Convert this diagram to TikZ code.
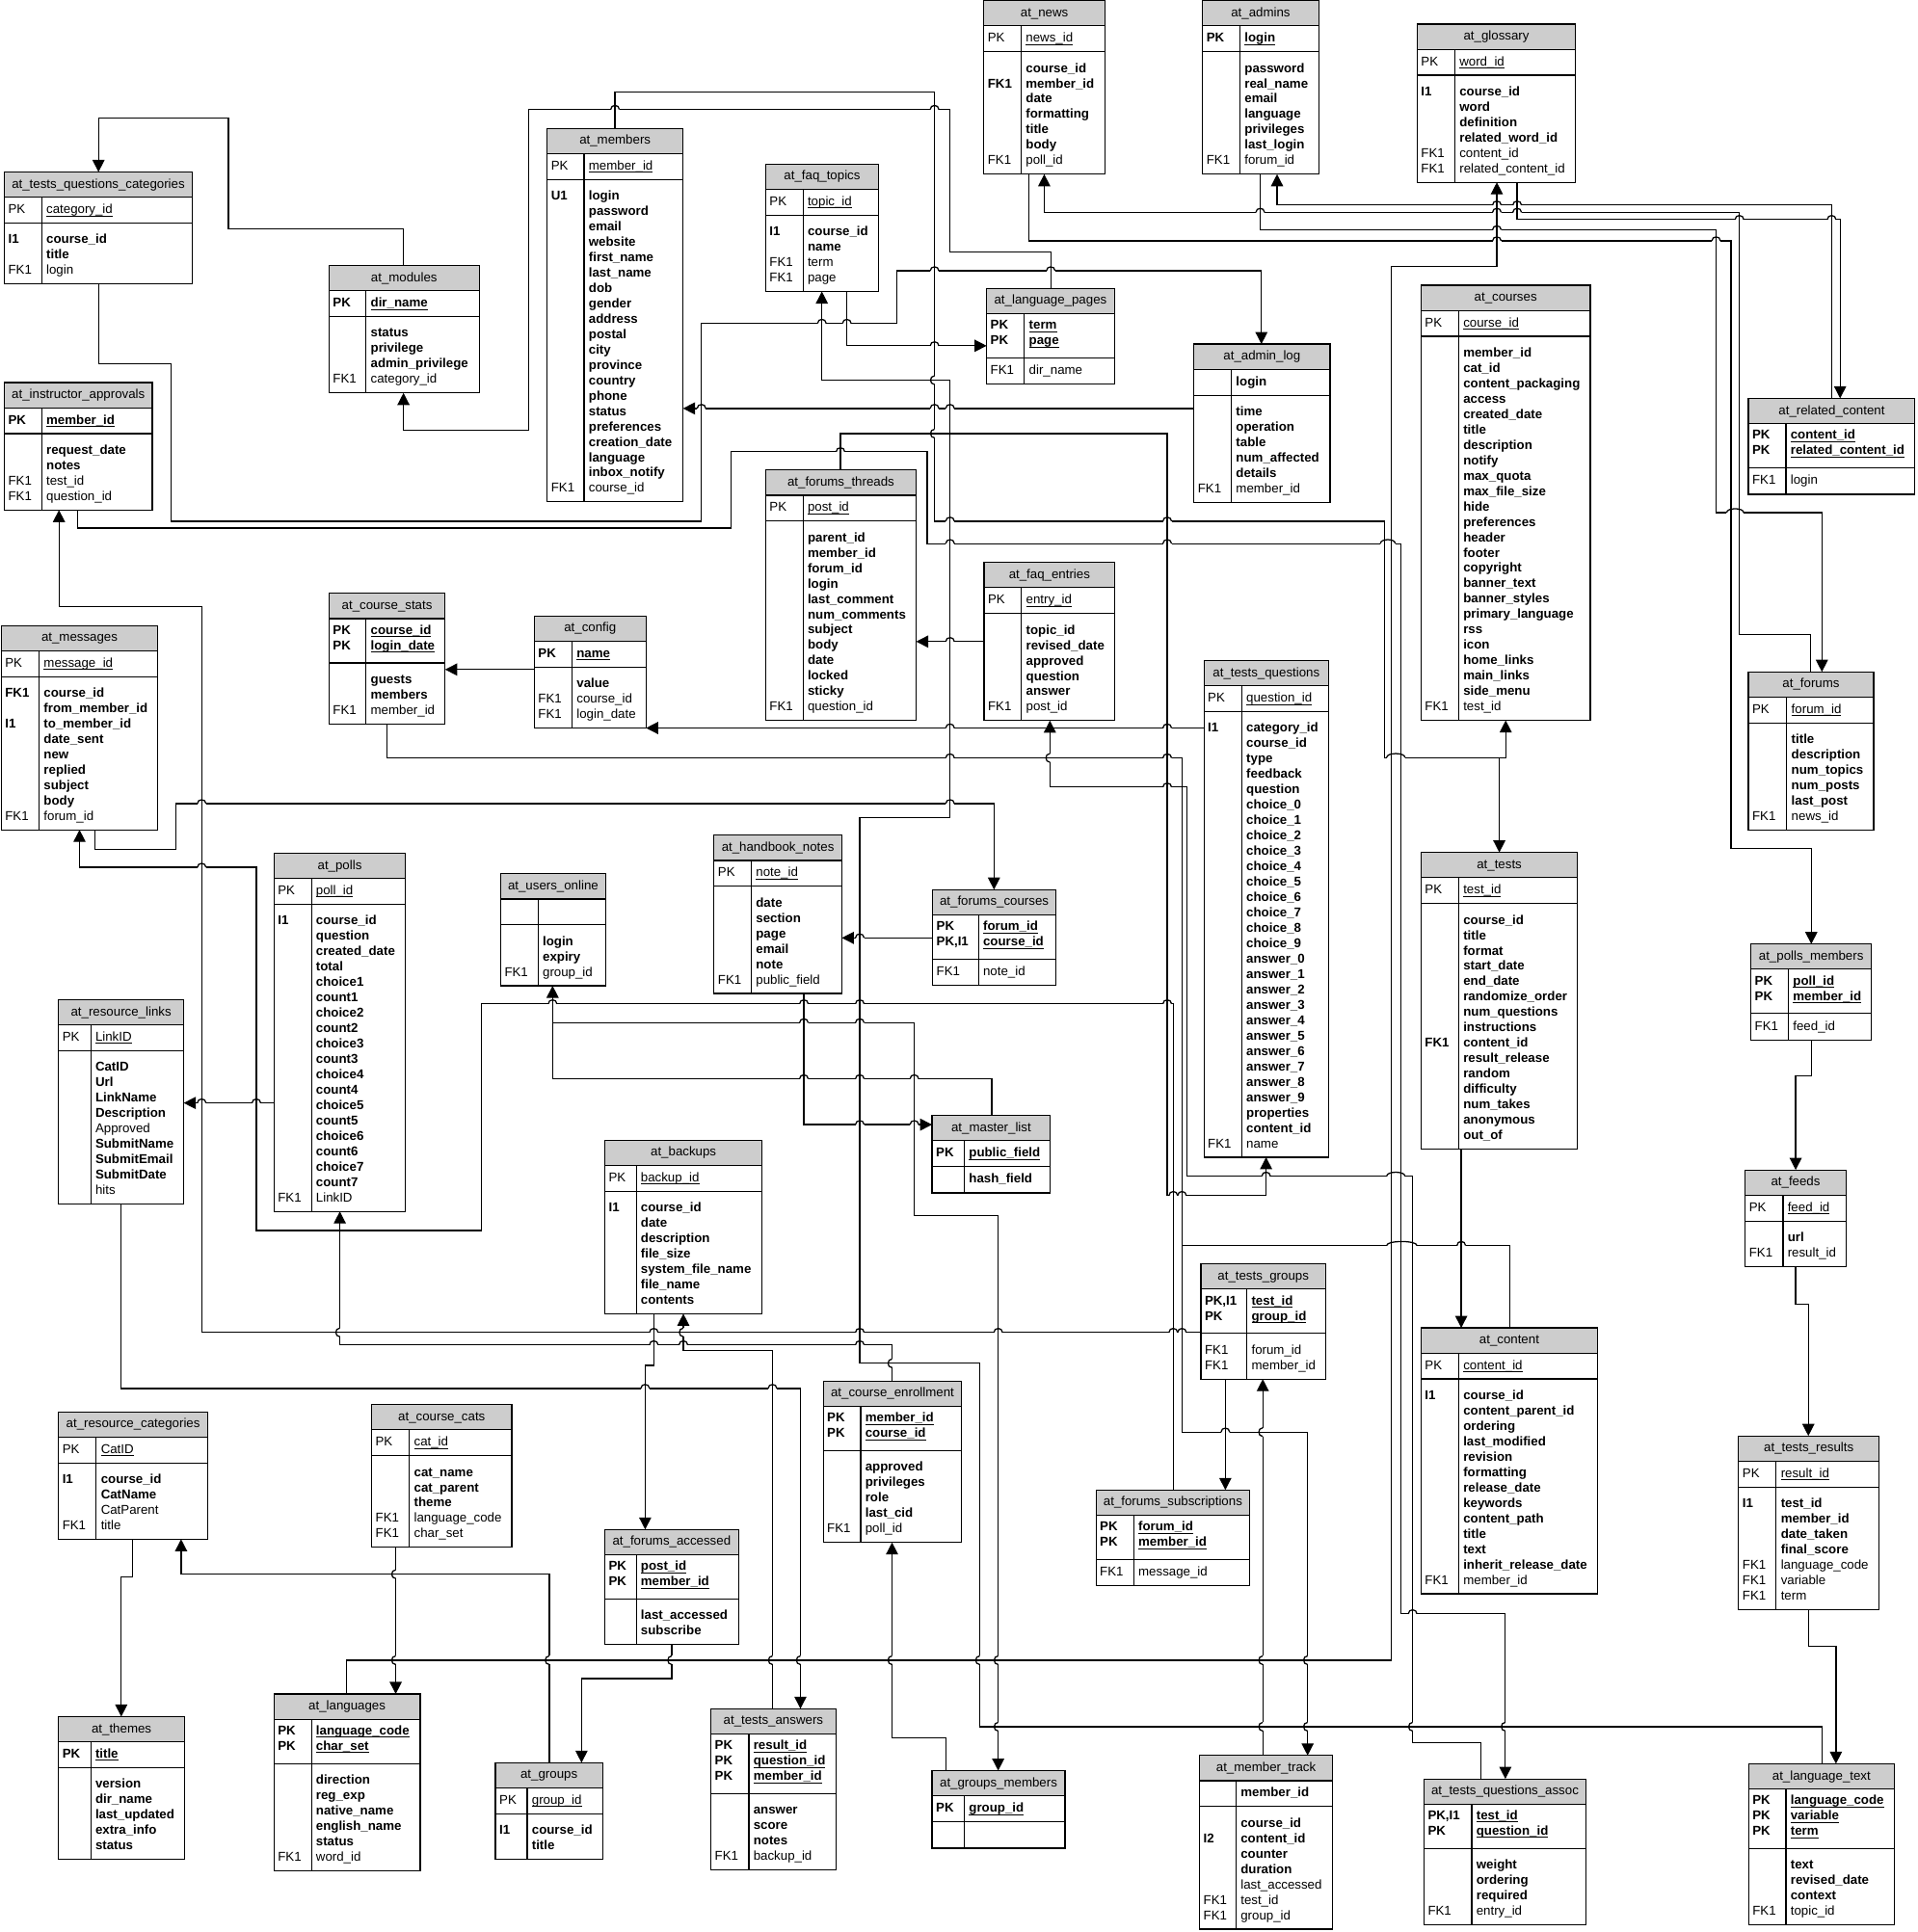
\documentclass[tikz,border=0pt]{standalone}
\usepackage{fontspec}
\setmainfont{Liberation Sans}
\usetikzlibrary{arrows.meta}
\newcommand\tfont{\fontsize{10.4pt}{12pt}\selectfont}
\newcommand\ulx[1]{\setbox0\hbox{#1}\rlap{\rule[-2.1pt]{\wd0}{0.6pt}}\box0}
\newcommand\stR[1]{#1}
\newcommand\stB[1]{\textbf{#1}}
\newcommand\stU[1]{\ulx{#1}}
\newcommand\stV[1]{\ulx{\textbf{#1}}}
\newcommand\kyR[1]{#1}
\newcommand\kyB[1]{\textbf{#1}}
\newcommand\kyU[1]{#1}
\newcommand\kyV[1]{\textbf{#1}}
\newcount\npk \newcount\nbd \newcount\ri
\definecolor{ttlgray}{RGB}{205,205,205}
\tikzset{
 tbox/.style={rectangle, draw=none, fill=white, inner sep=0pt, outer sep=0pt},
 tline/.style={line width=0.9pt, black},
 ttl/.style={inner sep=0pt, font=\tfont, text height=7.5pt, text depth=2pt},
 rowtxt/.style={inner sep=0pt, anchor=west, font=\tfont, text height=7.5pt, text depth=2pt},
 fk/.style={line width=1pt, -{Triangle[length=9.8pt,width=9.8pt]}},
 ln/.style={line width=1pt},
}
\newcommand\ertab[8]{%
  \global\npk=0
  \foreach \Ka/\Kb/\Kc in {#7}{\global\advance\npk by 1}%
  \global\nbd=0
  \foreach \Ka/\Kb/\Kc in {#8}{\global\advance\nbd by 1}%
  \pgfmathsetmacro\pkH{ifthenelse(\the\npk==1,21,11+12.5*\the\npk)}%
  \pgfmathsetmacro\bdH{ifthenelse(\the\nbd==1,21.5,12+12.5*\the\nbd)}%
  \pgfmathsetmacro\totH{20.5+\pkH+\bdH}%
  \pgfmathsetmacro\yA{#3+20.5}%
  \pgfmathsetmacro\yB{\yA+\pkH}%
  \pgfmathsetmacro\yC{#3+\totH}%
  \pgfmathsetmacro\xK{#2+#5}%
  \pgfmathsetmacro\xR{#2+#4}%
  \node[tbox, minimum width=#4pt, minimum height={\totH pt}, anchor=north west] (#1) at (#2,#3) {};
  \fill[ttlgray] (#2,#3) rectangle (\xR,\yA);
  \draw[tline] (#2,\yA) -- (\xR,\yA) (#2,\yB) -- (\xR,\yB) (\xK,\yA) -- (\xK,\yC);
  \draw[tline] (#2,#3) rectangle (\xR,\yC);
  \node[ttl] (#1-t) at ({#2+#4/2},{#3+10.25}) {#6};
  \global\ri=0
  \foreach \Ka/\Kb/\Kc in {#7}{%
    \pgfmathsetmacro\yy{\yA+ifthenelse(\the\npk==1,10.5,10)+12.5*\the\ri}%
    \node[rowtxt] (#1-pk\the\ri) at ({#2+3},\yy) {\csname ky\Kc\endcsname{\Ka}};
    \node[rowtxt] (#1-pf\the\ri) at ({\xK+3.6},\yy) {\csname st\Kc\endcsname{\Kb}};
    \global\advance\ri by 1 }%
  \global\ri=0
  \foreach \Ka/\Kb/\Kc in {#8}{%
    \pgfmathsetmacro\yy{\yB+ifthenelse(\the\nbd==1,10.75,14)+12.5*\the\ri}%
    \node[rowtxt] (#1-bk\the\ri) at ({#2+3},\yy) {\csname ky\Kc\endcsname{\Ka}};
    \node[rowtxt] (#1-bf\the\ri) at ({\xK+3.6},\yy) {\csname st\Kc\endcsname{\Kb}};
    \global\advance\ri by 1 }%
}
% line hops: horizontal line jumping over a vertical one, and vertical over horizontal
\newcommand\hh[2]{%
  \fill[white] ({#1-3.5},{#2-1.3}) rectangle ({#1+3.5},{#2+1.3});
  \draw[ln] (#1,{#2-1.7}) -- (#1,{#2+1.7});
  \draw[ln] ({#1-3.5},#2) .. controls ({#1-3.5},{#2-4.3}) and ({#1+3.5},{#2-4.3}) .. ({#1+3.5},#2);
}
\newcommand\hhtwo[3]{%
  \fill[white] ({#1-3.5},{#3-1.3}) rectangle ({#2+3.5},{#3+1.3});
  \draw[ln] (#1,{#3-1.7}) -- (#1,{#3+1.7}) (#2,{#3-1.7}) -- (#2,{#3+1.7});
  \draw[ln] ({#1-3.5},#3) .. controls ({#1-3.5},{#3-4.3}) and ({#2+3.5},{#3-4.3}) .. ({#2+3.5},#3);
}
\newcommand\vh[2]{%
  \fill[white] ({#1-1.3},{#2-3.5}) rectangle ({#1+1.3},{#2+3.5});
  \draw[ln] ({#1-1.7},#2) -- ({#1+1.7},#2);
  \draw[ln] (#1,{#2-3.5}) .. controls ({#1-4.3},{#2-3.5}) and ({#1-4.3},{#2+3.5}) .. (#1,{#2+3.5});
}
\begin{document}
\begin{tikzpicture}[x=1pt,y=-1pt]
\useasboundingbox (0,0) rectangle (1557,1569.5);
\fill[white] (0,0) rectangle (1557,1569.5);

\ertab{news}{799}{0.5}{98.5}{30.4}{at\_news}{PK/news\_id/U}{/course\_id/B, FK1/member\_id/B, /date/B, /formatting/B, /title/B, /body/B, FK1/poll\_id/R}
\ertab{admins}{976.7}{0.5}{94.3}{30.4}{at\_admins}{PK/login/V}{/password/B, /real\_name/B, /email/B, /language/B, /privileges/B, /last\_login/B, FK1/forum\_id/R}
\ertab{gloss}{1151}{19.6}{128.6}{30.6}{at\_glossary}{PK/word\_id/U}{I1/course\_id/B, /word/B, /definition/B, /related\_word\_id/B, FK1/content\_id/R, FK1/related\_content\_id/R}
\ertab{tqc}{3.5}{139.7}{152.7}{30.4}{at\_tests\_questions\_categories}{PK/category\_id/U}{I1/course\_id/B, /title/B, FK1/login/R}
\ertab{members}{444.4}{104.2}{110.3}{30}{at\_members}{PK/member\_id/U}{U1/login/B, /password/B, /email/B, /website/B, /first\_name/B, /last\_name/B, /dob/B, /gender/B, /address/B, /postal/B, /city/B, /province/B, /country/B, /phone/B, /status/B, /preferences/B, /creation\_date/B, /language/B, /inbox\_notify/B, FK1/course\_id/R}
\ertab{modules}{267.2}{215.7}{122}{30.1}{at\_modules}{PK/dir\_name/V}{/status/B, /privilege/B, /admin\_privilege/B, FK1/category\_id/R}
\ertab{faqt}{621.8}{133.3}{91.8}{30.4}{at\_faq\_topics}{PK/topic\_id/U}{I1/course\_id/B, /name/B, FK1/term/R, FK1/page/R}
\ertab{langp}{801.3}{234.2}{103.8}{30.7}{at\_language\_pages}{PK/term/V, PK/page/V}{FK1/dir\_name/R}
\ertab{alog}{969.7}{279.5}{110.5}{30.4}{at\_admin\_log}{/login/B}{/time/B, /operation/B, /table/B, /num\_affected/B, /details/B, FK1/member\_id/R}
\ertab{courses}{1154.1}{231.7}{137.5}{30.6}{at\_courses}{PK/course\_id/U}{/member\_id/B, /cat\_id/B, /content\_packaging/B, /access/B, /created\_date/B, /title/B, /description/B, /notify/B, /max\_quota/B, /max\_file\_size/B, /hide/B, /preferences/B, /header/B, /footer/B, /copyright/B, /banner\_text/B, /banner\_styles/B, /primary\_language/B, /rss/B, /icon/B, /home\_links/B, /main\_links/B, /side\_menu/B, FK1/test\_id/R}
\ertab{relc}{1420}{323.6}{135.3}{30.5}{at\_related\_content}{PK/content\_id/V, PK/related\_content\_id/V}{FK1/login/R}
\ertab{instr}{3.5}{310.8}{120.2}{30.4}{at\_instructor\_approvals}{PK/member\_id/V}{/request\_date/B, /notes/B, FK1/test\_id/R, FK1/question\_id/R}
\ertab{fthr}{621.8}{381.8}{122.3}{30.4}{at\_forums\_threads}{PK/post\_id/U}{/parent\_id/B, /member\_id/B, /forum\_id/B, /login/B, /last\_comment/B, /num\_comments/B, /subject/B, /body/B, /date/B, /locked/B, /sticky/B, FK1/question\_id/R}
\ertab{faqe}{799.2}{456.9}{106.3}{30.4}{at\_faq\_entries}{PK/entry\_id/U}{/topic\_id/B, /revised\_date/B, /approved/B, /question/B, /answer/B, FK1/post\_id/R}
\ertab{cstats}{267.2}{482.1}{94.3}{30.1}{at\_course\_stats}{PK/course\_id/V, PK/login\_date/V}{/guests/B, /members/B, FK1/member\_id/R}
\ertab{config}{433.9}{500.5}{90.8}{30.7}{at\_config}{PK/name/V}{/value/B, FK1/course\_id/R, FK1/login\_date/R}
\ertab{msgs}{1}{508.1}{127.2}{30.8}{at\_messages}{PK/message\_id/U}{FK1/course\_id/B, /from\_member\_id/B, I1/to\_member\_id/B, /date\_sent/B, /new/B, /replied/B, /subject/B, /body/B, FK1/forum\_id/R}
\ertab{tq}{977.8}{536.6}{101.3}{30.7}{at\_tests\_questions}{PK/question\_id/U}{I1/category\_id/B, /course\_id/B, /type/B, /feedback/B, /question/B, /choice\_0/B, /choice\_1/B, /choice\_2/B, /choice\_3/B, /choice\_4/B, /choice\_5/B, /choice\_6/B, /choice\_7/B, /choice\_8/B, /choice\_9/B, /answer\_0/B, /answer\_1/B, /answer\_2/B, /answer\_3/B, /answer\_4/B, /answer\_5/B, /answer\_6/B, /answer\_7/B, /answer\_8/B, /answer\_9/B, /properties/B, /content\_id/B, FK1/name/R}
\ertab{forums}{1420}{545.8}{101.7}{31.2}{at\_forums}{PK/forum\_id/U}{/title/B, /description/B, /num\_topics/B, /num\_posts/B, /last\_post/B, FK1/news\_id/R}
\ertab{polls}{222.5}{693.1}{106.9}{30.4}{at\_polls}{PK/poll\_id/U}{I1/course\_id/B, /question/B, /created\_date/B, /total/B, /choice1/B, /count1/B, /choice2/B, /count2/B, /choice3/B, /count3/B, /choice4/B, /count4/B, /choice5/B, /count5/B, /choice6/B, /count6/B, /choice7/B, /count7/B, FK1/LinkID/R}
\ertab{uonline}{406.6}{709.8}{85.3}{30.4}{at\_users\_online}{//R}{/login/B, /expiry/B, FK1/group\_id/R}
\ertab{rlinks}{47.5}{812.1}{101.7}{26.2}{at\_resource\_links}{PK/LinkID/U}{/CatID/B, /Url/B, /LinkName/B, /Description/B, /Approved/R, /SubmitName/B, /SubmitEmail/B, /SubmitDate/B, /hits/R}
\ertab{hnotes}{579.9}{678.5}{103.8}{30.3}{at\_handbook\_notes}{PK/note\_id/U}{/date/B, /section/B, /page/B, /email/B, /note/B, FK1/public\_field/R}
\ertab{fcourses}{757.4}{722.7}{100.2}{37.3}{at\_forums\_courses}{PK/forum\_id/V, {PK,I1}/course\_id/V}{FK1/note\_id/R}
\ertab{tests}{1154.1}{692.5}{127.2}{30.6}{at\_tests}{PK/test\_id/U}{/course\_id/B, /title/B, /format/B, /start\_date/B, /end\_date/B, /randomize\_order/B, /num\_questions/B, /instructions/B, FK1/content\_id/B, /result\_release/B, /random/B, /difficulty/B, /num\_takes/B, /anonymous/B, /out\_of/B}
\ertab{pmembers}{1422}{766.9}{98}{30.5}{at\_polls\_members}{PK/poll\_id/V, PK/member\_id/V}{FK1/feed\_id/R}
\ertab{mlist}{757}{906.1}{96.1}{26.2}{at\_master\_list}{PK/public\_field/V}{/hash\_field/B}
\ertab{backups}{491.2}{926.2}{127.8}{25.5}{at\_backups}{PK/backup\_id/U}{I1/course\_id/B, /date/B, /description/B, /file\_size/B, /system\_file\_name/B, /file\_name/B, /contents/B}
\ertab{feeds}{1417.4}{950.4}{81.9}{30.7}{at\_feeds}{PK/feed\_id/U}{/url/B, FK1/result\_id/R}
\ertab{tgroups}{975.3}{1026.8}{101.4}{37.4}{at\_tests\_groups}{{PK,I1}/test\_id/V, PK/group\_id/V}{FK1/forum\_id/R, FK1/member\_id/R}
\ertab{content}{1154.1}{1078.7}{143.4}{30.6}{at\_content}{PK/content\_id/U}{I1/course\_id/B, /content\_parent\_id/B, /ordering/B, /last\_modified/B, /revision/B, /formatting/B, /release\_date/B, /keywords/B, /content\_path/B, /title/B, /text/B, /inherit\_release\_date/B, FK1/member\_id/R}
\ertab{tresults}{1412}{1166.5}{114.1}{30.6}{at\_tests\_results}{PK/result\_id/U}{I1/test\_id/B, /member\_id/B, /date\_taken/B, /final\_score/B, FK1/language\_code/R, FK1/variable/R, FK1/term/R}
\ertab{cenroll}{668.6}{1122}{112.5}{30.4}{at\_course\_enrollment}{PK/member\_id/V, PK/course\_id/V}{/approved/B, /privileges/B, /role/B, /last\_cid/B, FK1/poll\_id/R}
\ertab{fsubs}{890.1}{1210.4}{125}{30.7}{at\_forums\_subscriptions}{PK/forum\_id/V, PK/member\_id/V}{FK1/message\_id/R}
\ertab{faccess}{491.2}{1242.5}{108.6}{25.5}{at\_forums\_accessed}{PK/post\_id/V, PK/member\_id/V}{/last\_accessed/B, /subscribe/B}
\ertab{rcats}{47.5}{1146.9}{121.2}{30.7}{at\_resource\_categories}{PK/CatID/U}{I1/course\_id/B, /CatName/B, /CatParent/R, FK1/title/R}
\ertab{ccats}{301.8}{1141}{113.9}{30.7}{at\_course\_cats}{PK/cat\_id/U}{/cat\_name/B, /cat\_parent/B, /theme/B, FK1/language\_code/R, FK1/char\_set/R}
\ertab{themes}{47.5}{1394.5}{102.4}{26.2}{at\_themes}{PK/title/V}{/version/B, /dir\_name/B, /last\_updated/B, /extra\_info/B, /status/B}
\ertab{langs}{222.5}{1376.1}{118.8}{30.4}{at\_languages}{PK/language\_code/V, PK/char\_set/V}{/direction/B, /reg\_exp/B, /native\_name/B, /english\_name/B, /status/B, FK1/word\_id/R}
\ertab{groups}{402.4}{1432}{87}{25.8}{at\_groups}{PK/group\_id/U}{I1/course\_id/B, /title/B}
\ertab{tanswers}{577.4}{1388.1}{101.4}{30.8}{at\_tests\_answers}{PK/result\_id/V, PK/question\_id/V, PK/member\_id/V}{/answer/B, /score/B, /notes/B, FK1/backup\_id/R}
\ertab{gmembers}{757}{1438.4}{108}{26.2}{at\_groups\_members}{PK/group\_id/V}{//R}
\ertab{mtrack}{974.3}{1426.1}{107.9}{29.6}{at\_member\_track}{/member\_id/B}{/course\_id/B, I2/content\_id/B, /counter/B, /duration/B, /last\_accessed/R, FK1/test\_id/R, FK1/group\_id/R}
\ertab{tqassoc}{1156.5}{1445.1}{131.6}{38.8}{at\_tests\_questions\_assoc}{{PK,I1}/test\_id/V, PK/question\_id/V}{/weight/B, /ordering/B, /required/B, FK1/entry\_id/R}
\ertab{langt}{1420.2}{1432.8}{118.3}{30.3}{at\_language\_text}{PK/language\_code/V, PK/variable/V, PK/term/V}{/text/B, /revised\_date/B, /context/B, FK1/topic\_id/R}

% connectors
\draw[fk] (327.7,0 |- modules.north) -- (327.7,185.9) -- (185.5,185.9) -- (185.5,96.1) -- (80,96.1) -- (80,0 |- tqc.north);
\draw[fk] (80,0 |- tqc.south) -- (80,295.7) -- (138.7,295.7) -- (138.7,423.4) -- (569.7,423.4) -- (569.7,262.7) -- (728.3,262.7) -- (728.3,220) -- (1024.5,220) -- (1024.5,0 |- alog.north);
\draw[fk] (63.2,0 |- instr.south) -- (63.2,429) -- (593.5,429) -- (593.5,367) -- (753.1,367) -- (753.1,441.6) -- (1137.6,441.6) -- (1137.6,1311) -- (1222.6,1311) -- (1222.6,0 |- tqassoc.north);
\draw[fk] (499.5,0 |- members.north) -- (499.5,74.6) -- (759,74.6) -- (759,423.4) -- (1124.6,423.4) -- (1124.6,615.4) -- (1222.9,615.4) -- (1222.9,0 |- courses.south);
\coordinate (j1) at (1217.7,615.4);
\draw[fk] (j1) -- (1217.7,0 |- tests.north);
\draw[fk] (687.8,0 |- faqt.south) -- (687.8,280.9) -- (langp.west |- 0,280.9);
\draw[fk] (853.4,0 |- langp.north) -- (853.4,204.9) -- (771.6,204.9) -- (771.6,88.9) -- (429.3,88.9) -- (429.3,349.4) -- (327.7,349.4) -- (327.7,0 |- modules.south);
\draw[fk] (alog.west |- 0,331.8) -- (members.east |- 0,331.8);
\draw[fk] (1479.7,0 |- langt.north) -- (1479.7,1402.7) -- (795.7,1402.7) -- (795.7,1107.5) -- (698.3,1107.5) -- (698.3,664) -- (771.6,664) -- (771.6,308.8) -- (667.5,308.8) -- (667.5,0 |- faqt.south);
\draw[fk] (682.6,0 |- fthr.north) -- (682.6,352.2) -- (948,352.2) -- (948,971.2) -- (1028.3,971.2) -- (1028.3,0 |- tq.south);
\draw[fk] (faqe.west |- 0,521.2) -- (fthr.east |- 0,521.2);
\draw[fk] (314.4,0 |- cstats.south) -- (314.4,615.7) -- (960,615.7) -- (960,1163.4) -- (1062,1163.4) -- (1062,0 |- mtrack.north);
\draw[fk] (config.west |- 0,543.9) -- (cstats.east |- 0,543.9);
\draw[fk] (tq.west |- 0,591.4) -- (config.east |- 0,591.4);
\draw[fk] (77.2,0 |- msgs.south) -- (77.2,689.8) -- (142.9,689.8) -- (142.9,652.9) -- (807.3,652.9) -- (807.3,0 |- fcourses.north);
\draw[fk] (952.9,0 |- fsubs.north) -- (952.9,815.5) -- (391.2,815.5) -- (391.2,999.7) -- (208.2,999.7) -- (208.2,704.6) -- (64.6,704.6) -- (64.6,0 |- msgs.south);
\draw[fk] (448.8,0 |- uonline.south) -- (448.8,830.9) -- (742.6,830.9) -- (742.6,987.6) -- (810.7,987.6) -- (810.7,0 |- gmembers.north);
\draw[fk] (805.5,0 |- mlist.north) -- (805.5,876.4) -- (448.8,876.4) -- (448.8,0 |- uonline.south);
\draw[fk] (652.9,0 |- hnotes.south) -- (652.9,913.6) -- (mlist.west |- 0,913.6);
\draw[fk] (fcourses.west |- 0,761.9) -- (hnotes.east |- 0,761.9);
\draw[fk] (polls.west |- 0,896) -- (rlinks.east |- 0,896);
\draw[fk] (tgroups.west |- 0,1082.4) -- (163.8,1082.4) -- (163.8,492.7) -- (47.9,492.7) -- (47.9,0 |- instr.south);
\draw[fk] (724.5,0 |- cenroll.north) -- (724.5,1092.5) -- (276,1092.5) -- (276,0 |- polls.south);
\draw[fk] (98.5,0 |- rlinks.south) -- (98.5,1127.9) -- (650.1,1127.9) -- (650.1,0 |- tanswers.north);
\draw[fk] (531,0 |- backups.south) -- (531,1109.2) -- (524,1109.2) -- (524,0 |- faccess.north);
\draw[fk] (627.4,0 |- tanswers.north) -- (627.4,1097.2) -- (555,1097.2) -- (555,0 |- backups.south);
\draw[fk] (321.4,0 |- ccats.south) -- (321.4,0 |- langs.north);
\draw[fk] (107.9,0 |- rcats.south) -- (107.9,1280.8) -- (98.5,1280.8) -- (98.5,0 |- themes.north);
\draw[fk] (446.1,0 |- groups.north) -- (446.1,1278.8) -- (147.1,1278.8) -- (147.1,0 |- rcats.south);
\draw[fk] (545.6,0 |- faccess.south) -- (545.6,1363.5) -- (472.3,1363.5) -- (472.3,0 |- groups.north);
\draw[fk] (768.1,0 |- gmembers.north) -- (768.1,1411.6) -- (724.5,1411.6) -- (724.5,0 |- cenroll.south);
\draw[fk] (281.5,0 |- langs.north) -- (281.5,1348.7) -- (1129.7,1348.7) -- (1129.7,216.6) -- (1215.7,216.6) -- (1215.7,0 |- gloss.south);
\draw[fk] (995.2,0 |- tgroups.south) -- (995.2,0 |- fsubs.north);
\draw[fk] (1025.6,0 |- mtrack.north) -- (1025.6,0 |- tgroups.south);
\draw[fk] (1186.8,0 |- tests.south) -- (1186.8,0 |- content.north);
\coordinate (j2) at (960,1011.8);
\draw[ln] (1226,0 |- content.north) -- (1226,1011.8) -- (j2);
\draw[fk] (1203,0 |- tqassoc.north) -- (1203,1415.7) -- (1147.3,1415.7) -- (1147.3,955.5) -- (964,955.5) -- (964,639.4) -- (852.7,639.4) -- (852.7,0 |- faqe.south);
\draw[fk] (835.9,0 |- news.south) -- (835.9,195.7) -- (1405.8,195.7) -- (1405.8,689.2) -- (1471.1,689.2) -- (1471.1,0 |- pmembers.north);
\draw[fk] (1023.5,0 |- admins.south) -- (1023.5,186.7) -- (1393.8,186.7) -- (1393.8,416.5) -- (1479.7,416.5) -- (1479.7,0 |- forums.north);
\draw[fk] (1232.2,0 |- gloss.south) -- (1232.2,178.3) -- (1494.5,178.3) -- (1494.5,0 |- relc.north);
\draw[fk] (1487.6,0 |- relc.north) -- (1487.6,166.6) -- (1037.2,166.6) -- (1037.2,0 |- admins.south);
\draw[fk] (1470.4,0 |- forums.north) -- (1470.4,515.3) -- (1412.7,515.3) -- (1412.7,172.5) -- (848.1,172.5) -- (848.1,0 |- news.south);
\draw[fk] (1471.1,0 |- pmembers.south) -- (1471.1,874.2) -- (1458.4,874.2) -- (1458.4,0 |- feeds.north);
\draw[fk] (1458.4,0 |- feeds.south) -- (1458.4,1059.5) -- (1468.7,1059.5) -- (1468.7,0 |- tresults.north);
\draw[fk] (1468.7,0 |- tresults.south) -- (1468.7,1337.5) -- (1491.1,1337.5) -- (1491.1,0 |- langt.north);

% line hops at crossings
\foreach \hx/\hy in {667.5/262.7, 687.8/262.7, 759/220, 853.4/220, 682.6/367, 771.6/441.6, 948/441.6,
  1147.3/1311, 952.9/971.2, 960/971.2, 771.6/615.7, 948/615.7, 995.2/1163.4, 771.6/591.4, 948/591.4,
  163.8/652.9, 771.6/652.9, 448.8/815.5, 652.9/815.5, 698.3/815.5, 948/815.5, 163.8/704.6,
  652.9/830.9, 698.3/830.9, 652.9/876.4, 698.3/876.4, 742.6/876.4, 698.3/913.6, 742.6/913.6,
  698.3/761.9, 163.8/896, 208.2/896, 531/1082.4, 698.3/1082.4, 810.7/1082.4, 952.9/1082.4,
  960/1082.4, 531/1092.5, 555/1092.5, 698.3/1092.5, 524/1127.9, 627.4/1127.9, 1028.3/955.5,
  948/639.4, 1186.8/1011.8, 1215.7/195.7, 1393.8/195.7, 1215.7/186.7, 1412.7/178.3, 1487.6/178.3,
  1215.7/166.6, 1232.2/166.6, 1023.5/172.5, 1215.7/172.5, 1232.2/172.5, 499.5/88.9, 759/88.9,
  759/280.9, 569.7/331.8, 759/331.8, 771.6/331.8, 771.6/521.2, 771.6/423.4, 948/423.4}
  {\hh{\hx}{\hy}}
\hhtwo{1124.6}{1129.7}{441.6}
\hhtwo{1129.7}{1137.6}{615.4}
\hhtwo{1129.7}{1137.6}{955.5}
\hhtwo{1129.7}{1147.3}{1011.8}
\draw[ln] (1137.6,1010) -- (1137.6,1013.6);
\hhtwo{1405.8}{1412.7}{416.5}
\foreach \hx/\hy in {759/308.8, 759/352.2, 724.5/1107.5, 852.7/615.7, 276/1082.4, 555/1082.4,
  321.4/1278.8, 1025.6/1163.4, 321.4/1348.7, 446.1/1348.7, 545.6/1348.7, 627.4/1348.7,
  650.1/1348.7, 724.5/1348.7, 795.7/1348.7, 810.7/1348.7, 1025.6/1348.7, 1062/1348.7,
  810.7/1402.7, 1025.6/1402.7, 1062/1402.7, 1147.3/1402.7, 1222.6/1402.7}
  {\vh{\hx}{\hy}}
\end{tikzpicture}
\end{document}
